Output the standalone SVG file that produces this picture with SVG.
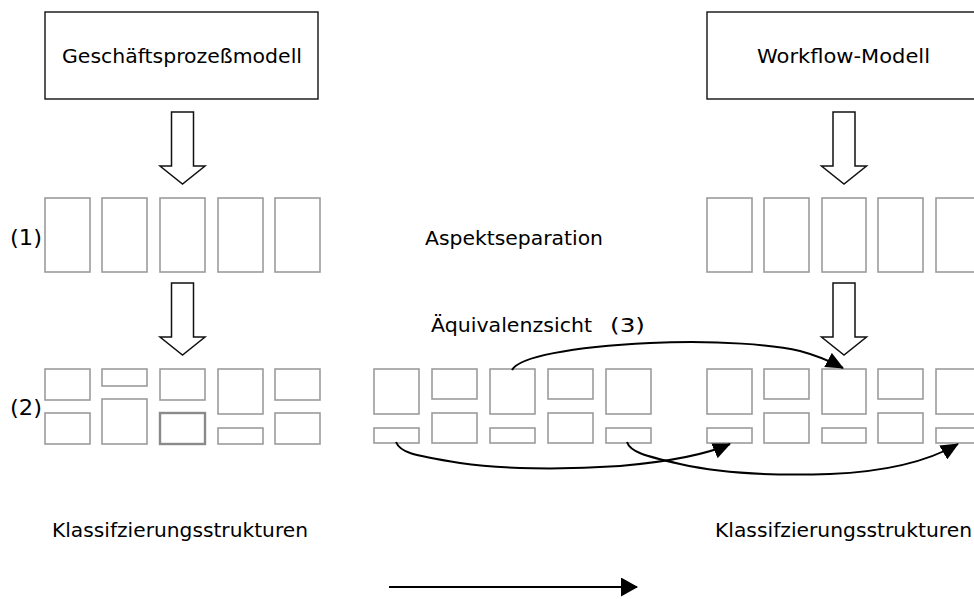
<svg xmlns="http://www.w3.org/2000/svg" width="974" height="599" viewBox="0 0 974 599">
  <style>
    .model { fill: #fff; stroke: #111; stroke-width: 1.4; }
    .cell { fill: #fff; stroke: #9c9c9c; stroke-width: 1.6; }
    .cell-strong { fill: #fff; stroke: #8a8a8a; stroke-width: 2.4; }
    .flow { fill: #fff; stroke: #111; stroke-width: 1.5; stroke-linejoin: miter; }
    .link { fill: none; stroke: #000; stroke-width: 2; }
    text { font-family: "DejaVu Sans", Verdana, sans-serif; font-size: 20px; fill: #000; }
    .num { font-size: 21px; }
  </style>
  <defs>
    <!-- hollow block arrow pointing down, origin at top centre of the shaft -->
    <path id="blockArrow" class="flow" d="M-11,0 H11 V54 H22.5 L0,72 L-22.5,54 H-11 Z"/>
    <marker id="tip" viewBox="0 0 18 16" refX="17" refY="8" markerWidth="18" markerHeight="16" markerUnits="userSpaceOnUse" orient="auto">
      <path d="M0,0 L18,8 L0,16 Z" fill="#000"/>
    </marker>
    <marker id="tipWide" viewBox="0 0 17 19" refX="16" refY="9.5" markerWidth="17" markerHeight="19" markerUnits="userSpaceOnUse" orient="auto">
      <path d="M0,0 L17,9.5 L0,19 Z" fill="#000"/>
    </marker>
  </defs>

  <!-- left model -->
  <g id="gpm">
    <rect class="model" x="45" y="12" width="273" height="87"/>
    <text x="62" y="63" textLength="240" lengthAdjust="spacingAndGlyphs">Geschäftsprozeßmodell</text>
  </g>
  <use href="#blockArrow" x="182.5" y="112"/>

  <!-- left aspect separation (1) -->
  <g id="left-aspects">
    <text class="num" x="10" y="245" textLength="32" lengthAdjust="spacingAndGlyphs">(1)</text>
    <rect class="cell" x="45" y="198" width="45" height="74"/>
    <rect class="cell" x="102" y="198" width="45" height="74"/>
    <rect class="cell" x="160" y="198" width="45" height="74"/>
    <rect class="cell" x="218" y="198" width="45" height="74"/>
    <rect class="cell" x="275" y="198" width="45" height="74"/>
  </g>
  <use href="#blockArrow" x="182.5" y="283"/>

  <!-- left classification structures (2) -->
  <g id="left-classes">
    <text class="num" x="10" y="415" textLength="32" lengthAdjust="spacingAndGlyphs">(2)</text>
    <rect class="cell" x="45" y="369" width="45" height="31"/>
    <rect class="cell" x="45" y="413" width="45" height="31"/>
    <rect class="cell" x="102" y="369" width="45" height="17"/>
    <rect class="cell" x="102" y="399" width="45" height="45"/>
    <rect class="cell" x="160" y="369" width="45" height="31"/>
    <rect class="cell-strong" x="160" y="413" width="45" height="31"/>
    <rect class="cell" x="218" y="369" width="45" height="45"/>
    <rect class="cell" x="218" y="428" width="45" height="16"/>
    <rect class="cell" x="275" y="369" width="45" height="31"/>
    <rect class="cell" x="275" y="413" width="45" height="31"/>
    <text x="52" y="537" textLength="256" lengthAdjust="spacingAndGlyphs">Klassifzierungsstrukturen</text>
  </g>

  <!-- middle labels -->
  <g id="aspect-label">
    <text x="425" y="245" textLength="178" lengthAdjust="spacingAndGlyphs">Aspektseparation</text>
  </g>
  <g id="equivalence-label">
    <text x="431" y="332" textLength="161" lengthAdjust="spacingAndGlyphs">Äquivalenzsicht</text>
    <text x="610" y="332" textLength="35" lengthAdjust="spacingAndGlyphs">(3)</text>
  </g>

  <!-- middle classification structures -->
  <g id="middle-classes">
    <rect class="cell" x="374" y="369" width="45" height="45"/>
    <rect class="cell" x="374" y="428" width="45" height="15"/>
    <rect class="cell" x="432" y="369" width="45" height="30"/>
    <rect class="cell" x="432" y="413" width="45" height="30"/>
    <rect class="cell" x="490" y="369" width="45" height="45"/>
    <rect class="cell" x="490" y="428" width="45" height="15"/>
    <rect class="cell" x="548" y="369" width="45" height="30"/>
    <rect class="cell" x="548" y="413" width="45" height="30"/>
    <rect class="cell" x="606" y="369" width="45" height="45"/>
    <rect class="cell" x="606" y="428" width="45" height="15"/>
  </g>

  <!-- right model -->
  <g id="wfm">
    <rect class="model" x="707" y="12" width="273" height="87"/>
    <text x="757" y="63" textLength="173" lengthAdjust="spacingAndGlyphs">Workflow-Modell</text>
  </g>
  <use href="#blockArrow" x="844" y="112"/>

  <!-- right aspect separation -->
  <g id="right-aspects">
    <rect class="cell" x="707" y="198" width="45" height="74"/>
    <rect class="cell" x="764" y="198" width="45" height="74"/>
    <rect class="cell" x="822" y="198" width="44" height="74"/>
    <rect class="cell" x="878" y="198" width="45" height="74"/>
    <rect class="cell" x="936" y="198" width="45" height="74"/>
  </g>
  <use href="#blockArrow" x="844" y="283"/>

  <!-- right classification structures -->
  <g id="right-classes">
    <rect class="cell" x="707" y="369" width="45" height="45"/>
    <rect class="cell" x="707" y="428" width="45" height="15"/>
    <rect class="cell" x="764" y="369" width="45" height="30"/>
    <rect class="cell" x="764" y="413" width="45" height="30"/>
    <rect class="cell" x="822" y="369" width="44" height="45"/>
    <rect class="cell" x="822" y="428" width="44" height="15"/>
    <rect class="cell" x="878" y="369" width="45" height="30"/>
    <rect class="cell" x="878" y="413" width="45" height="30"/>
    <rect class="cell" x="936" y="369" width="45" height="45"/>
    <rect class="cell" x="936" y="428" width="45" height="15"/>
    <text x="715" y="537" textLength="257" lengthAdjust="spacingAndGlyphs">Klassifzierungsstrukturen</text>
  </g>

  <!-- equivalence connectors -->
  <g id="connectors">
    <path class="link" marker-end="url(#tip)" d="M512,370 C519,357 570,347 650,343 C720,340 775,345 800,351 C815,355 830,361 843,368"/>
    <path class="link" marker-end="url(#tip)" d="M396,442 C400,452 410,455 460,463 C500,469 560,470 620,466 C665,462 705,455 730,444"/>
    <path class="link" marker-end="url(#tip)" d="M627,442 C630,452 645,456 680,464 C720,473 770,476 830,474 C880,472 925,463 958,444"/>
    <path class="link" marker-end="url(#tipWide)" d="M389,587 H637"/>
  </g>
</svg>
